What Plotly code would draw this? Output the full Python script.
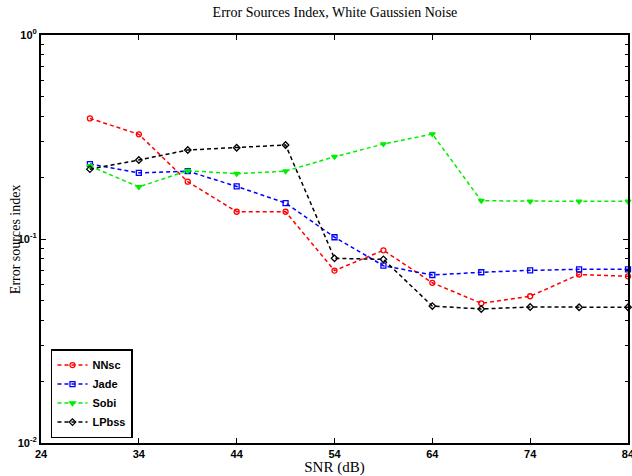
import plotly.graph_objects as go

snr = [29, 34, 39, 44, 49, 54, 59, 64, 69, 74, 79, 84]
nnsc = [0.39, 0.326, 0.191, 0.136, 0.136, 0.070, 0.088, 0.061, 0.0484, 0.0524, 0.067, 0.0656]
jade = [0.233, 0.211, 0.215, 0.181, 0.150, 0.102, 0.074, 0.0666, 0.0687, 0.0702, 0.071, 0.071]
sobi = [0.228, 0.180, 0.216, 0.209, 0.215, 0.253, 0.292, 0.327, 0.154, 0.153, 0.153, 0.153]
lpbss = [0.220, 0.244, 0.273, 0.280, 0.289, 0.0804, 0.0795, 0.0469, 0.0454, 0.0464, 0.0463, 0.0463]

x_ticks = [24, 34, 44, 54, 64, 74, 84]
y_ticks = [0.01, 0.1, 1]
y_ticktext = ["10<sup>-2</sup>", "10<sup>-1</sup>", "10<sup>0</sup>"]
minor_vals = [k * 10 ** e for e in (-2, -1) for k in range(2, 10)]

series = [
    ("NNsc", nnsc, "#ff0000", "circle-open"),
    ("Jade", jade, "#0000ff", "square-open"),
    ("Sobi", sobi, "#00ee00", "triangle-down"),
    ("LPbss", lpbss, "#000000", "diamond-open"),
]

fig = go.Figure()
for name, vals, color, sym in series:
    fig.add_trace(go.Scatter(
        x=snr, y=vals, name=name, mode="lines+markers",
        line=dict(color=color, width=1.5, dash="4px,3px"),
        marker=dict(symbol=sym, size=5, color=color,
                    line=dict(color=color, width=1.3)),
        cliponaxis=False,
    ))

axis_common = dict(
    showline=True, linecolor="black", linewidth=2, mirror="ticks",
    ticks="inside", tickcolor="black", ticklen=5, tickwidth=1,
    showgrid=False, zeroline=False, ticklabeloverflow="allow", automargin=False,
    tickfont=dict(family="Liberation Sans, Arial", size=11, color="black", weight="bold"),
)

fig.update_xaxes(
    range=[23.999, 84.001], tickvals=x_ticks, **axis_common,
    title=dict(text="SNR (dB)", font=dict(family="Liberation Serif, Times New Roman", size=15, color="black"), standoff=2),
)
fig.update_yaxes(
    type="log", range=[-2, 0], tickvals=y_ticks, ticktext=y_ticktext, **axis_common,
    minor=dict(tickvals=minor_vals, ticks="inside", ticklen=3, tickcolor="black", showgrid=False),
)

fig.add_annotation(
    text="Error sources index", xref="paper", yref="paper",
    x=-0.044, y=0.5, xanchor="center", yanchor="middle", textangle=-90,
    showarrow=False,
    font=dict(family="Liberation Serif, Times New Roman", size=14, color="black"),
)

fig.update_layout(
    width=632, height=476,
    margin=dict(l=41, r=4, t=35, b=33, autoexpand=False),
    paper_bgcolor="white", plot_bgcolor="white",
    title=dict(text="Error Sources Index, White Gaussien Noise", x=0.53, xanchor="center",
               y=0.985, yanchor="top",
               font=dict(family="Liberation Serif, Times New Roman", size=14, color="black")),
    legend=dict(x=0.017, y=0.012, xanchor="left", yanchor="bottom",
                bordercolor="black", borderwidth=1.5, bgcolor="white",
                font=dict(family="Liberation Sans, Arial", size=11, color="black", weight="bold"),
                tracegroupgap=0, itemwidth=30),
    showlegend=True,
)

fig.write_html("out.html")
